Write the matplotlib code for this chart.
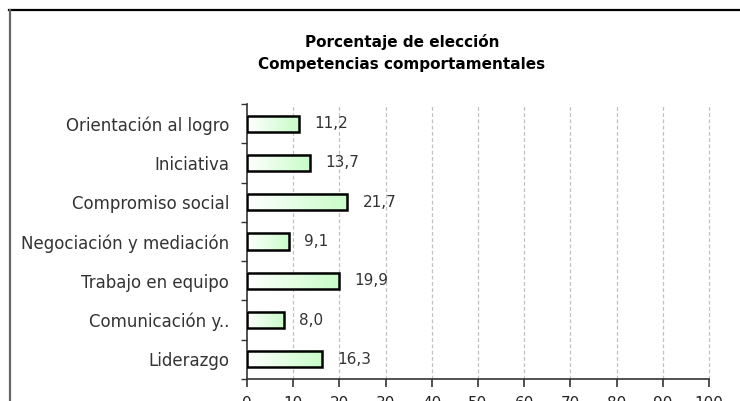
import numpy as np
import matplotlib
matplotlib.use("Agg")
import matplotlib.pyplot as plt
from matplotlib.colors import LinearSegmentedColormap
from matplotlib.lines import Line2D

categories = ["Orientación al logro", "Iniciativa", "Compromiso social",
              "Negociación y mediación", "Trabajo en equipo", "Comunicación y..",
              "Liderazgo"]
values = [11.2, 13.7, 21.7, 9.1, 19.9, 8.0, 16.3]
value_labels = ["11,2", "13,7", "21,7", "9,1", "19,9", "8,0", "16,3"]
xticks = list(range(0, 101, 10))
title_lines = ["Porcentaje de elección", "Competencias comportamentales"]

plt.rcParams['font.family'] = ['DejaVu Sans']

W, H = 740, 401
fig = plt.figure(figsize=(W / 100, H / 100), dpi=100)
fig.patch.set_facecolor('white')

left, right, top, bottom = 247, 709, 104, 379
ax = fig.add_axes([left / W, 1 - bottom / H, (right - left) / W, (bottom - top) / H])

n = len(categories)
ypos = np.arange(n)
bar_h = 0.41
cmap = LinearSegmentedColormap.from_list("g", ["#ffffff", "#c8fcc8"])
grad = np.linspace(0, 1, 256).reshape(1, -1)

for y, v, lab in zip(ypos, values, value_labels):
    ax.imshow(grad, extent=[0, v, y + bar_h / 2, y - bar_h / 2], aspect='auto',
              cmap=cmap, zorder=3, interpolation='bilinear')
    ax.add_patch(plt.Rectangle((0, y - bar_h / 2), v, bar_h, facecolor='none',
                               edgecolor='black', linewidth=1.8, zorder=4))
    ax.annotate(lab, xy=(v, y), xytext=(11, 0), textcoords='offset points',
                va='center', ha='left', fontsize=11, color='#333333')

ax.set_xlim(0, 100)
ax.set_ylim(n - 0.5, -0.5)
ax.set_xticks(xticks)
ax.set_xticklabels([str(t) for t in xticks], fontsize=11, color='#222222')
ax.set_yticks(ypos)
ax.set_yticklabels(categories, fontsize=12, color='#333333')
ax.set_yticks(np.arange(-0.5, n, 1), minor=True)
ax.tick_params(axis='y', which='major', length=0, pad=13)
ax.tick_params(axis='y', which='minor', length=4, color='#333333', width=1)
ax.tick_params(axis='x', length=6, color='#333333', width=1.2, pad=6.5)

for t in xticks[1:]:
    ax.axvline(t, color='#c0c0c0', linestyle=(0, (3, 2)), linewidth=0.9, zorder=1,
               clip_on=False)

for s in ['top', 'right']:
    ax.spines[s].set_visible(False)
for s in ['left', 'bottom']:
    ax.spines[s].set_color('#333333')
    ax.spines[s].set_linewidth(1.2)

fig.text(402 / W, 1 - 42 / H, title_lines[0], ha='center', va='center',
         fontsize=11, fontweight='bold')
fig.text(402 / W, 1 - 64 / H, title_lines[1], ha='center', va='center',
         fontsize=11, fontweight='bold')

# outer frame (top and left edges)
fig.add_artist(Line2D([9 / W, 1], [1 - 9.5 / H, 1 - 9.5 / H], transform=fig.transFigure,
                      color='black', linewidth=1.6))
fig.add_artist(Line2D([9.5 / W, 9.5 / W], [0, 1 - 9.5 / H], transform=fig.transFigure,
                      color='#666666', linewidth=1.6))

fig.savefig("out.png", dpi=100)
